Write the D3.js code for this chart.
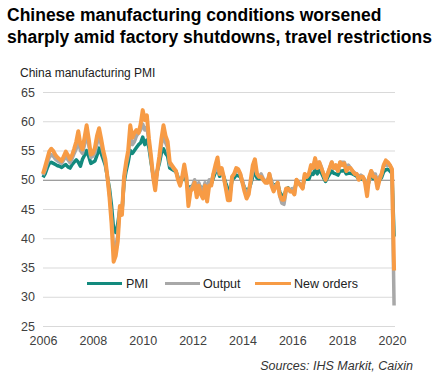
<!DOCTYPE html>
<html>
<head>
<meta charset="utf-8">
<script src="https://cdn.jsdelivr.net/npm/d3@7"></script>
<style>
  html, body { margin: 0; padding: 0; background: #fff; }
  svg { display: block; font-family: "Liberation Sans", Arial, sans-serif; }
</style>
</head>
<body>
<svg id="chart" width="433" height="377"></svg>
<script>
// ---- data (monthly, Jan 2006 .. Feb 2020) ----
const startYear = 2006;
const pmi = [
  50.4, 51.0, 52.0, 52.8, 53.0, 52.8, 52.6, 52.4, 52.3, 52.1, 52.4, 52.6,
  52.2, 52.0, 52.6, 53.0, 53.4, 53.0, 52.3, 53.5, 54.2, 55.0, 54.0, 52.8,
  53.0, 53.2, 54.2, 55.4, 54.5, 53.5, 52.5, 50.5, 48.5, 45.5, 41.5, 41.0,
  42.5, 45.0, 44.5, 49.5, 51.5, 53.0, 55.0, 54.5, 55.0, 55.5, 56.0, 56.3,
  57.3, 56.0, 56.8, 55.5, 53.0, 50.8, 49.6, 51.5, 52.8, 54.6, 55.3, 54.5,
  54.0, 52.0, 51.8, 51.6, 51.4, 50.4, 49.6, 50.0, 50.8, 49.8, 48.0, 48.8,
  48.9, 49.5, 48.5, 49.2, 48.6, 48.3, 49.2, 47.8, 49.6, 49.3, 50.3, 51.3,
  52.0, 50.6, 51.4, 50.5, 49.4, 48.4, 47.8, 50.0, 50.3, 50.8, 50.7, 50.5,
  49.6, 48.6, 48.2, 48.3, 49.3, 50.6, 51.5, 50.3, 50.2, 50.3, 50.0, 49.7,
  49.7, 50.6, 49.6, 48.9, 49.2, 49.3, 47.9, 47.3, 47.2, 48.3, 48.6, 48.2,
  48.4, 48.1, 49.6, 49.4, 49.2, 48.7, 50.5, 50.1, 50.1, 51.1, 50.9, 51.8,
  51.0, 51.6, 51.2, 50.4, 49.7, 50.4, 51.0, 51.5, 51.1, 51.0, 50.8, 51.5,
  51.5, 51.6, 51.0, 51.1, 51.1, 51.0, 50.8, 50.6, 50.1, 50.1, 50.2, 49.8,
  48.4, 49.9, 50.8, 50.2, 50.2, 49.4, 49.9, 50.4, 51.4, 51.7, 51.8, 51.5,
  51.1, 40.3
];
const output = [
  50.8, 51.6, 52.8, 53.8, 54.3, 54.0, 53.5, 53.2, 53.0, 52.8, 53.4, 53.9,
  53.4, 52.9, 53.6, 54.5, 55.3, 56.8, 55.0, 54.5, 56.0, 57.8, 56.0, 53.8,
  54.0, 54.6, 56.2, 57.6, 56.0, 54.5, 53.0, 50.5, 47.5, 43.5, 38.0, 38.5,
  40.5, 45.3, 44.2, 50.0, 52.5, 54.2, 57.5, 56.0, 56.5, 57.5, 58.0, 58.5,
  59.5, 58.5, 59.0, 56.5, 53.5, 50.6, 48.8, 51.5, 53.5, 56.0, 57.8, 56.3,
  55.5, 52.5, 52.3, 51.8, 51.5, 50.2, 49.2, 50.3, 51.5, 50.5, 47.0, 48.5,
  49.0, 50.0, 48.0, 49.5, 48.5, 48.0, 49.5, 47.5, 50.0, 49.5, 51.0, 51.5,
  52.5, 51.0, 51.8, 50.2, 48.8, 47.5, 47.2, 50.5, 51.0, 51.5, 51.5, 51.0,
  49.8, 48.5, 47.8, 48.0, 49.5, 51.5, 52.5, 51.0, 50.5, 51.0, 50.2, 49.8,
  49.5, 51.0, 49.8, 48.5, 49.0, 49.5, 47.2, 46.0, 45.8, 48.0, 48.5, 48.0,
  48.5, 47.5, 50.0, 49.5, 49.2, 48.6, 51.0, 50.5, 51.0, 52.0, 52.0, 53.5,
  52.0, 53.0, 52.2, 51.0, 50.0, 51.0, 52.0, 53.0, 52.0, 52.0, 51.5, 53.0,
  53.0, 53.0, 52.0, 52.5, 52.0, 51.5, 51.2, 51.0, 50.5, 50.8, 50.5, 50.0,
  48.5, 50.0, 51.5, 51.0, 51.0, 49.5, 50.5, 51.0, 52.5, 52.5, 52.5, 52.5,
  51.5, 28.5
];
const newOrders = [
  51.0, 52.2, 53.5, 54.8, 55.3, 54.9, 54.2, 53.8, 53.5, 53.2, 54.0, 54.8,
  54.2, 53.5, 54.2, 55.3, 56.5, 58.3, 56.0, 55.2, 57.2, 59.3, 57.0, 54.3,
  54.5, 55.5, 57.5, 58.8, 57.0, 55.0, 53.5, 50.5, 47.0, 42.5, 36.0, 37.0,
  39.5, 45.5, 44.0, 50.5, 53.0, 55.0, 59.3, 57.2, 58.0, 58.5, 58.0, 59.5,
  61.9, 60.2, 61.0, 57.0, 54.0, 50.5, 48.2, 51.5, 54.0, 57.0, 59.3, 57.5,
  56.5, 53.0, 52.5, 52.0, 51.5, 50.0, 49.0, 50.5, 52.6, 50.5, 45.5, 48.0,
  48.5, 49.5, 47.0, 49.0, 47.5, 46.8, 49.0, 46.3, 49.0, 49.0, 51.0, 52.5,
  53.8, 51.0, 52.0, 50.5, 48.5, 46.5, 46.5, 50.5, 51.0, 52.0, 51.8, 51.0,
  49.5, 48.0, 46.8, 47.5, 50.0, 52.5, 53.5, 51.0, 50.5, 50.5, 50.0, 49.5,
  49.5, 51.0, 49.0, 48.0, 48.8, 49.5, 47.3, 46.6, 46.6, 48.5, 48.5, 48.0,
  48.0, 47.5, 50.0, 49.5, 49.0, 48.5, 51.0, 50.5, 51.0, 52.5, 52.0, 53.7,
  52.0, 53.0, 52.0, 51.0, 50.0, 51.0, 52.0, 53.0, 52.0, 52.5, 51.5, 53.0,
  52.5, 52.8, 51.5, 52.0, 52.0, 51.5, 51.0, 51.0, 50.0, 50.5, 50.5, 49.5,
  47.2, 50.5, 51.5, 50.5, 50.5, 48.5, 50.0, 51.0, 52.5, 53.3, 53.0, 52.5,
  51.8, 34.5
];
const seriesNames = ["PMI", "Output", "New orders"];
const seriesColors = ["#138a7e", "#a8a8a8", "#f79b45"];
const yTicks = [25, 30, 35, 40, 45, 50, 55, 60, 65];
const xTicks = [2006, 2008, 2010, 2012, 2014, 2016, 2018, 2020];
const titleLines = ["Chinese manufacturing conditions worsened",
                    "sharply amid factory shutdowns, travel restrictions"];
const subtitle = "China manufacturing PMI";
const source = "Sources: IHS Markit, Caixin";

// ---- drawing ----
const svg = d3.select("#chart");
const x = d3.scaleLinear().domain([2006, 2020]).range([43, 392]);
const y = d3.scaleLinear().domain([25, 65]).range([326, 92]);
const gridRight = 395;

// title
svg.append("g").selectAll("text").data(titleLines).join("text")
  .attr("x", 7).attr("y", (d, i) => 21 + i * 21.5)
  .attr("font-size", 17.5).attr("font-weight", "bold").attr("fill", "#000")
  .text(d => d);

svg.append("text").attr("x", 20).attr("y", 77)
  .attr("font-size", 12).attr("fill", "#222").text(subtitle);

// y axis (gridlines + labels)
const yAxis = d3.axisLeft(y).tickValues(yTicks).tickSize(-(gridRight - 43)).tickPadding(8)
  .tickFormat(d3.format("d"));
const gy = svg.append("g").attr("transform", "translate(43,0)").call(yAxis);
gy.select(".domain").remove();
gy.selectAll(".tick line").attr("stroke", d => d === 50 ? "#7f7f7f" : "#d9d9d9").attr("stroke-width", 1);
gy.selectAll(".tick text").attr("font-size", 12.5).attr("fill", "#404040")
  .attr("font-family", "Liberation Sans, Arial, sans-serif");

// x axis (labels only)
const xAxis = d3.axisBottom(x).tickValues(xTicks).tickSize(0).tickPadding(10).tickFormat(d3.format("d"));
const gx = svg.append("g").attr("transform", "translate(0,326)").call(xAxis);
gx.select(".domain").remove();
gx.selectAll(".tick text").attr("font-size", 12.5).attr("fill", "#404040")
  .attr("font-family", "Liberation Sans, Arial, sans-serif");

gy.selectAll(".tick").filter(d => d === 50).raise();

// lines
const allSeries = [pmi, output, newOrders];
const line = d3.line().x((d, i) => x(startYear + i / 12)).y(d => y(d));
const widths = [3.5, 3.5, 4];
svg.append("g").selectAll("path").data(allSeries).join("path")
  .attr("d", d => line(d))
  .attr("fill", "none")
  .attr("stroke", (d, i) => seriesColors[i])
  .attr("stroke-width", (d, i) => widths[i])
  .attr("stroke-linejoin", "round");

// legend
const legendItems = [
  {x0: 87, x1: 122, tx: 126},
  {x0: 165, x1: 200, tx: 203},
  {x0: 255, x1: 291, tx: 294}
];
const lg = svg.append("g");
legendItems.forEach((it, i) => {
  lg.append("line").attr("x1", it.x0).attr("x2", it.x1).attr("y1", 283.5).attr("y2", 283.5)
    .attr("stroke", seriesColors[i]).attr("stroke-width", 3);
  lg.append("text").attr("x", it.tx).attr("y", 288).attr("font-size", 12.5).attr("fill", "#222")
    .text(seriesNames[i]);
});

// source
svg.append("text").attr("x", 413).attr("y", 370).attr("text-anchor", "end")
  .attr("font-size", 12.5).attr("font-style", "italic").attr("fill", "#333").text(source);
</script>
</body>
</html>
